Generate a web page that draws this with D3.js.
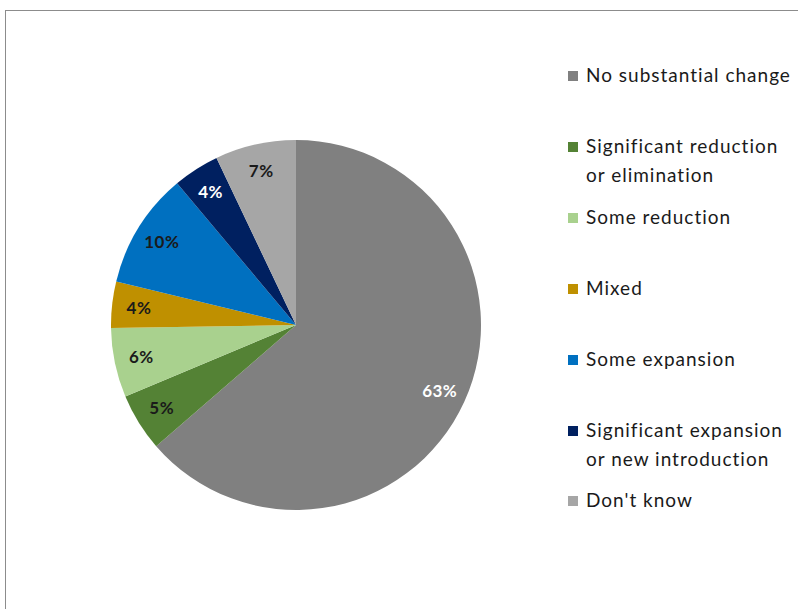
<!DOCTYPE html>
<html>
<head>
<meta charset="utf-8">
<script src="https://cdn.jsdelivr.net/npm/d3@7"></script>
<style>
  html, body { margin: 0; padding: 0; background: #fff; }
  svg { display: block; }
</style>
</head>
<body>
<svg id="chart" width="798" height="609"></svg>
<script>
// Responses by category (percent)
const categories = [
  "No substantial change",
  "Significant reduction or elimination",
  "Some reduction",
  "Mixed",
  "Some expansion",
  "Significant expansion or new introduction",
  "Don't know"
];
const values = [63, 5, 6, 4, 10, 4, 7];
const colors = ["#808080", "#548235", "#A9D18E", "#BF9000", "#0070C0", "#002060", "#A6A6A6"];
const labelColors = ["#ffffff", "#1a1a1a", "#1a1a1a", "#1a1a1a", "#1a1a1a", "#ffffff", "#1a1a1a"];
// Legend text, split into display lines
const legendLines = [
  ["No substantial change"],
  ["Significant reduction", "or elimination"],
  ["Some reduction"],
  ["Mixed"],
  ["Some expansion"],
  ["Significant expansion", "or new introduction"],
  ["Don't know"]
];

const svg = d3.select("#chart");
const font = "Lato, 'Open Sans', sans-serif";

// Outer frame
svg.append("rect")
  .attr("x", 5.5).attr("y", 10.5)
  .attr("width", 820).attr("height", 640)
  .attr("fill", "none").attr("stroke", "#8c8c8c").attr("stroke-width", 1);

const cx = 296, cy = 325, r = 185;
const g = svg.append("g").attr("transform", `translate(${cx},${cy})`);

const pie = d3.pie().sort(null).value(d => d.v);
const data = categories.map((c, i) => ({ c, v: values[i], i }));
const arcs = pie(data);

const arc = d3.arc().innerRadius(0).outerRadius(r);
const labelArc = d3.arc().innerRadius(158).outerRadius(158);

g.selectAll("path.slice")
  .data(arcs)
  .join("path")
  .attr("class", "slice")
  .attr("d", arc)
  .attr("fill", d => colors[d.data.i]);

g.selectAll("text.pct")
  .data(arcs)
  .join("text")
  .attr("class", "pct")
  .attr("transform", d => `translate(${labelArc.centroid(d)})`)
  .attr("text-anchor", "middle")
  .attr("dy", "0.36em")
  .attr("font-family", font)
  .attr("font-weight", "bold")
  .attr("font-size", 17)
  .attr("letter-spacing", 0.5)
  .attr("fill", d => labelColors[d.data.i])
  .text(d => d.data.v + "%");

// Legend
const legendY = [75, 146, 217, 288, 359, 430, 500];
const lg = svg.append("g");
legendLines.forEach((lines, i) => {
  const y = legendY[i];
  lg.append("rect")
    .attr("x", 568).attr("y", y - 4)
    .attr("width", 10).attr("height", 10)
    .attr("fill", colors[i]);
  const t = lg.append("text")
    .attr("x", 586).attr("y", y + 7)
    .attr("font-family", font)
    .attr("font-size", 19)
    .attr("letter-spacing", 1)
    .attr("fill", "#1a1a1a");
  lines.forEach((ln, j) => {
    t.append("tspan").attr("x", 586).attr("dy", j === 0 ? 0 : 28.5).text(ln);
  });
});
</script>
</body>
</html>
